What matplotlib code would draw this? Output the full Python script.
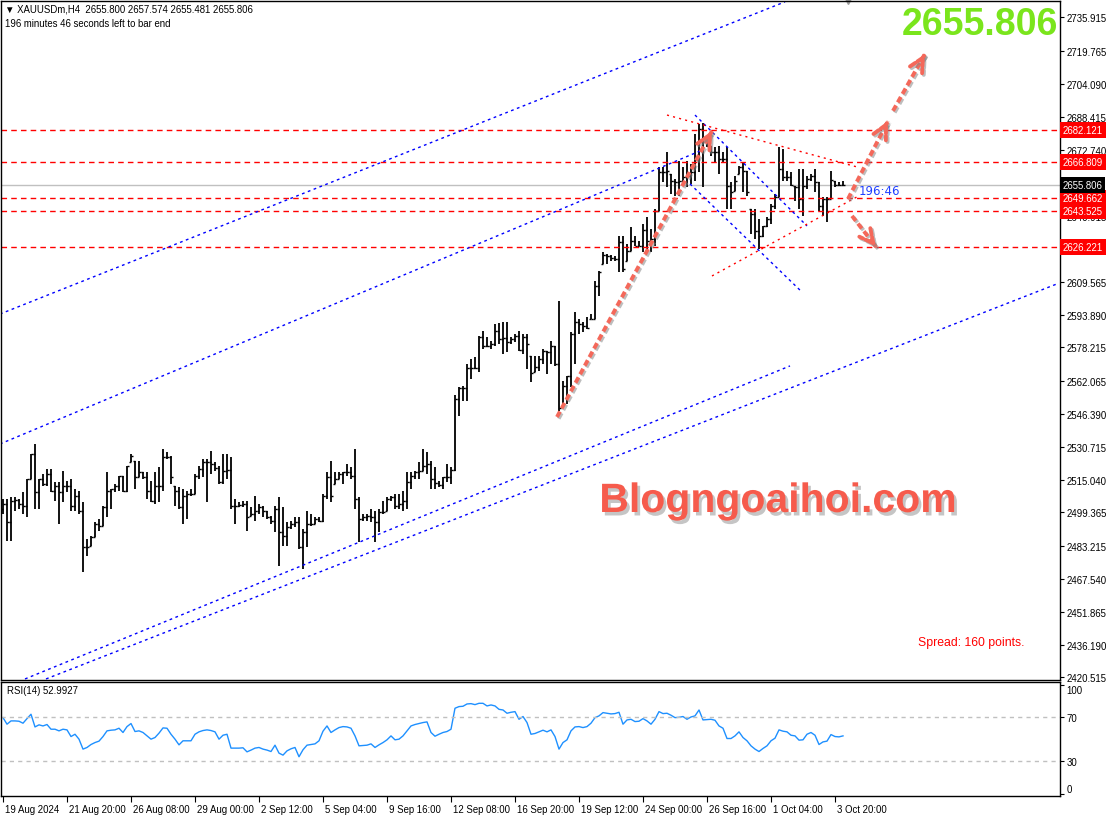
import numpy as np
import matplotlib.pyplot as plt
import matplotlib.patheffects as pe
import matplotlib.transforms as mtransforms

# ---- data (XAUUSDm, H4) ----
high = [
    2505.8, 2505.8, 2506.8, 2506.8, 2505.8, 2509.1, 2515.4, 2527.3, 2532.1, 2515.4,
    2517.7, 2520.1, 2520.1, 2513.9, 2513.9, 2519.2, 2514.4, 2515.4, 2510.6, 2509.6,
    2504.4, 2486.7, 2488.1, 2494.8, 2496.2, 2502.5, 2518.7, 2510.6, 2513.0, 2516.8,
    2516.8, 2521.6, 2527.3, 2524.0, 2524.0, 2518.7, 2518.7, 2514.4, 2518.7, 2521.1,
    2529.7, 2528.3, 2526.4, 2512.0, 2511.5, 2510.6, 2509.6, 2510.6, 2517.7, 2521.6,
    2524.9, 2524.9, 2528.7, 2523.5, 2521.6, 2527.3, 2527.3, 2525.9, 2505.8, 2504.4,
    2504.8, 2504.8, 2502.0, 2507.2, 2503.4, 2502.5, 2500.1, 2497.7, 2502.5, 2506.8,
    2502.0, 2494.8, 2495.3, 2497.2, 2497.2, 2491.5, 2500.1, 2498.6, 2497.2, 2497.2,
    2508.2, 2518.7, 2524.0, 2518.7, 2518.7, 2518.7, 2522.5, 2521.1, 2529.7, 2506.8,
    2498.6, 2498.6, 2501.0, 2500.1, 2501.0, 2504.8, 2506.8, 2507.2, 2508.2, 2508.2,
    2509.6, 2518.7, 2518.7, 2519.2, 2523.5, 2529.7, 2528.3, 2524.0, 2521.1, 2514.4,
    2516.3, 2522.5, 2521.1, 2555.5, 2559.3, 2559.8, 2570.3, 2572.7, 2573.7, 2583.7,
    2586.1, 2583.2, 2581.3, 2589.4, 2589.9, 2590.4, 2590.4, 2583.2, 2584.7, 2586.1,
    2584.7, 2584.7, 2574.2, 2574.2, 2574.2, 2577.5, 2576.5, 2581.3, 2578.9, 2600.4,
    2562.2, 2564.6, 2585.6, 2595.2, 2591.8, 2590.4, 2592.8, 2594.2, 2610.0, 2614.8,
    2623.9, 2622.9, 2622.4, 2622.0, 2631.5, 2631.5, 2627.7, 2635.8, 2631.5, 2629.1,
    2637.2, 2640.6, 2634.9, 2644.4, 2664.5, 2664.5, 2671.7, 2661.1, 2658.8, 2667.4,
    2664.5, 2667.4, 2665.9, 2680.3, 2685.0, 2685.5, 2678.8, 2674.5, 2674.1, 2674.5,
    2671.7, 2674.1, 2657.3, 2660.2, 2665.0, 2666.9, 2662.6, 2644.4, 2644.4, 2639.6,
    2636.3, 2640.6, 2646.8, 2651.6, 2674.1, 2673.1, 2662.6, 2662.1, 2655.4, 2663.5,
    2663.5, 2660.2, 2661.1, 2663.5, 2657.3, 2650.2, 2650.2, 2662.6, 2657.8, 2657.3,
    2657.574]
low = [
    2498.6, 2485.7, 2485.7, 2500.1, 2501.0, 2498.6, 2497.2, 2515.4, 2501.0, 2501.0,
    2512.0, 2512.0, 2509.1, 2504.8, 2493.8, 2504.4, 2509.1, 2500.1, 2500.1, 2498.6,
    2470.9, 2478.5, 2483.3, 2487.6, 2490.5, 2492.9, 2497.2, 2501.0, 2509.1, 2509.6,
    2509.1, 2509.1, 2523.5, 2510.6, 2516.3, 2515.4, 2505.8, 2504.4, 2503.4, 2504.4,
    2509.6, 2524.9, 2513.0, 2502.5, 2501.0, 2493.8, 2496.2, 2507.2, 2508.2, 2515.4,
    2516.3, 2504.4, 2517.7, 2519.2, 2513.0, 2513.0, 2515.4, 2501.0, 2493.8, 2502.0,
    2502.0, 2490.5, 2497.7, 2495.3, 2498.6, 2497.2, 2496.2, 2493.8, 2490.0, 2473.8,
    2483.3, 2483.3, 2491.5, 2492.4, 2481.9, 2472.3, 2482.9, 2492.9, 2493.8, 2494.8,
    2494.8, 2505.8, 2504.4, 2513.0, 2515.4, 2513.0, 2516.8, 2515.4, 2501.0, 2485.2,
    2495.3, 2495.3, 2494.8, 2485.2, 2490.0, 2498.6, 2500.1, 2504.8, 2501.0, 2501.0,
    2500.1, 2501.0, 2510.6, 2515.4, 2515.4, 2519.2, 2517.7, 2510.6, 2510.6, 2511.5,
    2510.6, 2513.9, 2513.0, 2519.2, 2545.5, 2552.6, 2552.6, 2563.2, 2567.9, 2566.5,
    2577.5, 2578.5, 2577.5, 2578.9, 2579.9, 2575.1, 2576.1, 2579.9, 2580.8, 2576.5,
    2575.1, 2567.9, 2561.7, 2566.5, 2567.0, 2570.3, 2565.5, 2570.3, 2569.4, 2547.9,
    2550.3, 2551.2, 2559.3, 2570.3, 2584.7, 2585.6, 2587.1, 2591.8, 2591.8, 2602.8,
    2618.1, 2618.1, 2619.6, 2619.6, 2614.3, 2614.3, 2619.6, 2624.3, 2626.7, 2626.7,
    2623.9, 2623.9, 2623.9, 2626.7, 2643.5, 2657.3, 2654.9, 2651.6, 2650.6, 2650.6,
    2657.8, 2654.9, 2656.4, 2657.8, 2662.1, 2654.9, 2674.1, 2669.8, 2666.9, 2661.1,
    2666.9, 2644.4, 2644.4, 2653.0, 2661.1, 2652.5, 2650.6, 2632.5, 2630.1, 2625.3,
    2631.0, 2635.8, 2637.3, 2644.4, 2650.2, 2657.8, 2657.8, 2655.4, 2648.2, 2644.4,
    2641.1, 2654.0, 2657.8, 2652.5, 2643.5, 2641.1, 2638.2, 2649.2, 2654.9, 2655.4,
    2655.481]
close = [
    2503.4, 2494.8, 2504.8, 2505.3, 2503.4, 2502.5, 2515.4, 2527.3, 2509.1, 2515.4,
    2513.0, 2517.7, 2509.6, 2512.0, 2509.1, 2512.0, 2512.0, 2502.5, 2507.2, 2500.1,
    2482.9, 2482.9, 2487.6, 2493.8, 2492.9, 2502.0, 2509.6, 2510.6, 2512.0, 2516.8,
    2509.6, 2521.6, 2526.4, 2516.3, 2518.7, 2516.3, 2509.6, 2504.8, 2512.0, 2512.0,
    2525.9, 2525.9, 2516.3, 2509.6, 2502.0, 2507.2, 2508.2, 2508.2, 2516.8, 2520.1,
    2523.5, 2523.5, 2522.5, 2520.6, 2513.9, 2519.2, 2519.7, 2502.5, 2502.5, 2503.0,
    2503.4, 2497.2, 2498.6, 2500.1, 2502.0, 2500.1, 2497.2, 2495.3, 2501.0, 2490.0,
    2488.1, 2492.4, 2493.8, 2494.8, 2482.9, 2490.0, 2493.8, 2493.8, 2496.2, 2495.3,
    2507.2, 2516.3, 2507.2, 2515.4, 2517.7, 2518.7, 2518.7, 2516.8, 2505.8, 2496.2,
    2497.2, 2497.7, 2497.2, 2494.8, 2499.6, 2499.6, 2505.8, 2506.8, 2502.5, 2503.4,
    2504.8, 2513.9, 2516.8, 2518.7, 2519.2, 2521.6, 2522.5, 2515.4, 2513.4, 2512.5,
    2516.3, 2516.3, 2519.7, 2553.6, 2558.9, 2558.9, 2568.4, 2568.4, 2568.4, 2583.2,
    2578.9, 2578.9, 2579.9, 2586.1, 2582.3, 2582.8, 2580.8, 2582.3, 2583.7, 2577.0,
    2583.2, 2579.9, 2566.0, 2568.9, 2572.7, 2576.5, 2576.1, 2578.9, 2570.3, 2549.3,
    2559.8, 2564.6, 2584.7, 2590.4, 2589.4, 2588.5, 2587.5, 2591.8, 2607.6, 2614.3,
    2622.4, 2622.0, 2621.0, 2620.5, 2628.6, 2615.7, 2624.3, 2629.1, 2626.7, 2626.7,
    2634.4, 2629.1, 2630.1, 2643.5, 2662.1, 2662.1, 2662.6, 2657.8, 2657.3, 2657.8,
    2659.7, 2660.2, 2662.1, 2668.3, 2682.7, 2677.9, 2674.5, 2671.7, 2671.7, 2668.3,
    2668.3, 2655.4, 2652.5, 2657.8, 2664.5, 2662.6, 2652.5, 2642.0, 2633.9, 2631.5,
    2636.3, 2639.6, 2645.9, 2650.2, 2663.5, 2659.7, 2659.7, 2655.9, 2654.9, 2649.2,
    2655.4, 2658.8, 2660.2, 2657.3, 2645.9, 2649.2, 2649.2, 2658.3, 2655.9, 2655.9,
    2655.806]
first_open = 2501.0

rsi = [
    69.7, 63.7, 66.7, 66.7, 66.4, 64.6, 68.8, 72.8, 61.2, 63.1,
    62.1, 63.4, 59.1, 59.1, 57.6, 59.1, 58.5, 52.4, 54.5, 50.0,
    40.9, 42.4, 45.1, 46.9, 48.2, 52.4, 57.6, 58.2, 58.5, 60.0,
    56.1, 61.5, 64.3, 57.0, 57.6, 56.1, 53.0, 50.0, 51.5, 55.5,
    60.3, 60.0, 54.5, 50.0, 44.8, 48.5, 48.5, 48.5, 54.5, 56.7,
    57.9, 58.5, 57.9, 56.7, 50.0, 53.6, 54.5, 41.8, 41.8, 41.8,
    42.1, 38.4, 40.0, 41.8, 42.4, 40.9, 40.0, 38.7, 44.5, 37.2,
    35.4, 39.3, 41.2, 42.4, 33.9, 40.3, 44.5, 45.1, 45.7, 48.5,
    57.3, 62.1, 56.1, 58.5, 60.6, 61.5, 61.2, 60.0, 53.0, 43.9,
    44.2, 44.5, 45.7, 42.4, 44.8, 46.9, 49.4, 53.0, 49.4, 50.0,
    53.0, 57.6, 62.1, 63.4, 64.3, 65.2, 65.8, 56.1, 52.7, 54.5,
    56.1, 57.0, 59.1, 78.3, 79.8, 80.1, 82.2, 82.5, 81.6, 82.8,
    82.8, 80.4, 81.3, 80.4, 77.3, 76.7, 73.7, 74.6, 75.2, 68.2,
    70.7, 65.2, 54.5, 55.2, 56.7, 58.2, 56.7, 58.5, 52.4, 40.9,
    46.9, 49.4, 57.6, 61.2, 61.5, 60.6, 61.5, 64.6, 69.7, 71.3,
    74.3, 73.7, 73.1, 73.4, 74.6, 63.7, 67.6, 68.2, 66.1, 66.4,
    68.8, 66.7, 63.7, 68.2, 75.2, 73.4, 73.7, 71.9, 69.7, 70.0,
    70.7, 68.2, 70.3, 71.3, 76.7, 67.6, 67.9, 68.2, 67.3, 62.1,
    60.0, 50.6, 50.6, 53.0, 56.7, 51.5, 48.5, 43.9, 40.9, 38.7,
    41.5, 43.9, 48.5, 50.9, 58.5, 57.3, 56.7, 53.6, 53.0, 49.1,
    49.4, 54.5, 56.1, 53.6, 45.1, 47.5, 48.2, 54.2, 52.4, 52.1,
    52.9927]

date_ticks = ["19 Aug 2024", "21 Aug 20:00", "26 Aug 08:00", "29 Aug 00:00",
              "2 Sep 12:00", "5 Sep 04:00", "9 Sep 16:00", "12 Sep 08:00",
              "16 Sep 20:00", "19 Sep 12:00", "24 Sep 00:00", "26 Sep 16:00",
              "1 Oct 04:00", "3 Oct 20:00"]
price_ticks = [2735.915, 2719.765, 2704.090, 2688.415, 2672.740, 2657.065,
               2640.915, 2625.240, 2609.565, 2593.890, 2578.215, 2562.065,
               2546.390, 2530.715, 2515.040, 2499.365, 2483.215, 2467.540,
               2451.865, 2436.190, 2420.515]
hidden_ticks = [2657.065, 2625.240]   # covered by the price labels in the original
levels = [2682.121, 2666.809, 2649.662, 2643.525, 2626.221]
bid = 2655.806

# trendlines as (bar index, price) pairs
blue_lines = [
    [(-0.75, 2594.2), (195.5, 2743.4)],
    [(-0.75, 2532.1), (174.25, 2672.1)],
    [(5.5, 2419.8), (196.75, 2569.4)],
    [(10.75, 2419.8), (263.5, 2608.6)],
    [(173.0, 2689.3), (201.0, 2636.3)],
    [(171.75, 2656.4), (199.75, 2604.7)],
]
red_dotted = [
    [(166.0, 2689.3), (213.5, 2664.5)],
    [(177.25, 2612.4), (213.5, 2650.2)],
]
arrows = [
    [(138.5, 2545.0), (177.25, 2681.7)],
    [(211.25, 2649.2), (221.25, 2686.5)],
    [(222.5, 2691.3), (230.5, 2718.5)],
    [(212.25, 2641.1), (218.25, 2626.3)],
]
shift_mark = 211.25

W, H = 1114, 820
fig = plt.figure(figsize=(W / 100, H / 100), dpi=100)
fig.patch.set_facecolor("white")
small = dict(family="Liberation Sans", size=6.9)


def px_rect(x0, y0, x1, y1):
    return [x0 / W, 1 - y1 / H, (x1 - x0) / W, (y1 - y0) / H]


ax = fig.add_axes(px_rect(1, 2, 1060, 681))
axr = fig.add_axes(px_rect(1, 683, 1060, 797), sharex=ax)

idx = np.arange(len(close))
close_a = np.array(close)
opens = np.concatenate([[first_open], close_a[:-1]])
opens = np.clip(opens, low, high)

# bars
ax.vlines(idx, low, high, color="black", lw=1.3)
ax.hlines(opens, idx - 0.55, idx, color="black", lw=1.0)
ax.hlines(close_a, idx, idx + 0.55, color="black", lw=1.0)

# horizontal levels
ax.axhline(bid, color="#c0c0c0", lw=1, zorder=0)
for lv in levels:
    ax.axhline(lv, color="red", lw=1, ls=(0, (4, 3)))

for (x0, y0), (x1, y1) in blue_lines:
    ax.plot([x0, x1], [y0, y1], color="blue", lw=1, ls=(0, (2, 2.5)))
for (x0, y0), (x1, y1) in red_dotted:
    ax.plot([x0, x1], [y0, y1], color="red", lw=1, ls=(0, (1.5, 3)))

# hand-drawn dashed arrows with shadow
arrow_col = "#f4685a"
shadow = [pe.SimpleLineShadow(offset=(1.2, -1.2), shadow_color="#888888", alpha=0.55), pe.Normal()]
for (x0, y0), (x1, y1) in arrows:
    ax.plot([x0, x1], [y0, y1], color=arrow_col, lw=2.8, ls=(0, (1.6, 0.9)),
            dash_capstyle="butt", path_effects=shadow)
    ax.annotate("", xy=(x1, y1), xytext=(x0 + (x1 - x0) * 0.97, y0 + (y1 - y0) * 0.97),
                arrowprops=dict(arrowstyle="->,head_length=1.0,head_width=0.5",
                                color=arrow_col, lw=2.8, linestyle=(0, (1.6, 0.7)),
                                shrinkA=0, shrinkB=0, path_effects=shadow))

ax.text(214.0, 2653.2, "196:46", color="#1f3fff", fontsize=8.5, va="center")
ax.plot([shift_mark], [1.0], marker="v", ms=5, color="#9a9a9a", clip_on=False,
        transform=mtransforms.blended_transform_factory(ax.transData, ax.transAxes))

ax.set_xlim(-0.5, 264.25)
ax.set_ylim(2419.3, 2743.8)
ax.yaxis.tick_right()
ax.set_yticks(price_ticks)
ax.set_yticklabels(["" if p in hidden_ticks else f"{p:.3f}" for p in price_ticks])
ax.tick_params(axis="y", direction="out", length=3, pad=1.5)
ax.tick_params(axis="x", bottom=False, labelbottom=False)
for lbl in ax.get_yticklabels():
    lbl.set_fontfamily(small["family"])
    lbl.set_fontsize(small["size"])

# coloured price labels on the axis
trans = mtransforms.blended_transform_factory(ax.transAxes, ax.transData)
for lv, fc in [(l, "red") for l in levels] + [(bid, "black")]:
    ax.text(1.0025, lv, f"{lv:.3f}", transform=trans, color="white",
            va="center", ha="left", zorder=10, clip_on=False, **small,
            bbox=dict(boxstyle="square,pad=0.3", fc=fc, ec="none"))

# RSI panel
axr.plot(idx, rsi, color="#1e90ff", lw=1)
for lv in (70, 30):
    axr.axhline(lv, color="#c0c0c0", lw=1, ls=(0, (3, 3)))
axr.set_ylim(-2.0, 102.3)
axr.yaxis.tick_right()
axr.set_yticks([0, 30, 70, 100])
axr.tick_params(axis="y", direction="out", length=3, pad=1.5)
axr.set_xticks(np.arange(0, 16 * len(date_ticks), 16))
axr.set_xticklabels(date_ticks)
axr.tick_params(axis="x", direction="out", length=4, pad=1.5)
offset = mtransforms.ScaledTranslation(2 / 100, 0, fig.dpi_scale_trans)
for lbl in axr.get_xticklabels():
    lbl.set_horizontalalignment("left")
    lbl.set_transform(lbl.get_transform() + offset)
for lbl in axr.get_xticklabels() + axr.get_yticklabels():
    lbl.set_fontfamily(small["family"])
    lbl.set_fontsize(small["size"])
ylbls = axr.get_yticklabels()
ylbls[0].set_verticalalignment("bottom")
ylbls[-1].set_verticalalignment("top")

for a in (ax, axr):
    for s in a.spines.values():
        s.set_color("black")
        s.set_linewidth(1)

# overlay texts
fig.text(5 / W, 1 - 10 / H, "▼ XAUUSDm,H4  2655.800 2657.574 2655.481 2655.806",
         va="center", family=["Liberation Sans", "DejaVu Sans"], size=6.9)
fig.text(5 / W, 1 - 24 / H, "196 minutes 46 seconds left to bar end", va="center", **small)
fig.text(7 / W, 1 - 691 / H, "RSI(14) 52.9927", va="center", **small)
fig.text(1058 / W, 1 - 25 / H, "2655.806", color="#7ae51c", fontsize=27,
         fontweight="bold", family="Liberation Sans", ha="right", va="center")
fig.text(778 / W, 1 - 502 / H, "Blogngoaihoi.com", color="#f65b4c", fontsize=29.5,
         fontweight="bold", family="Liberation Sans", ha="center", va="center",
         path_effects=[pe.SimplePatchShadow(offset=(2, -2.5), shadow_rgbFace="gray", alpha=0.45),
                       pe.Normal()])
fig.text(918 / W, 1 - 643 / H, "Spread: 160 points.", color="red", family="Liberation Sans",
         fontsize=8.8, va="center")

fig.savefig("out.png", dpi=100, facecolor="white")
